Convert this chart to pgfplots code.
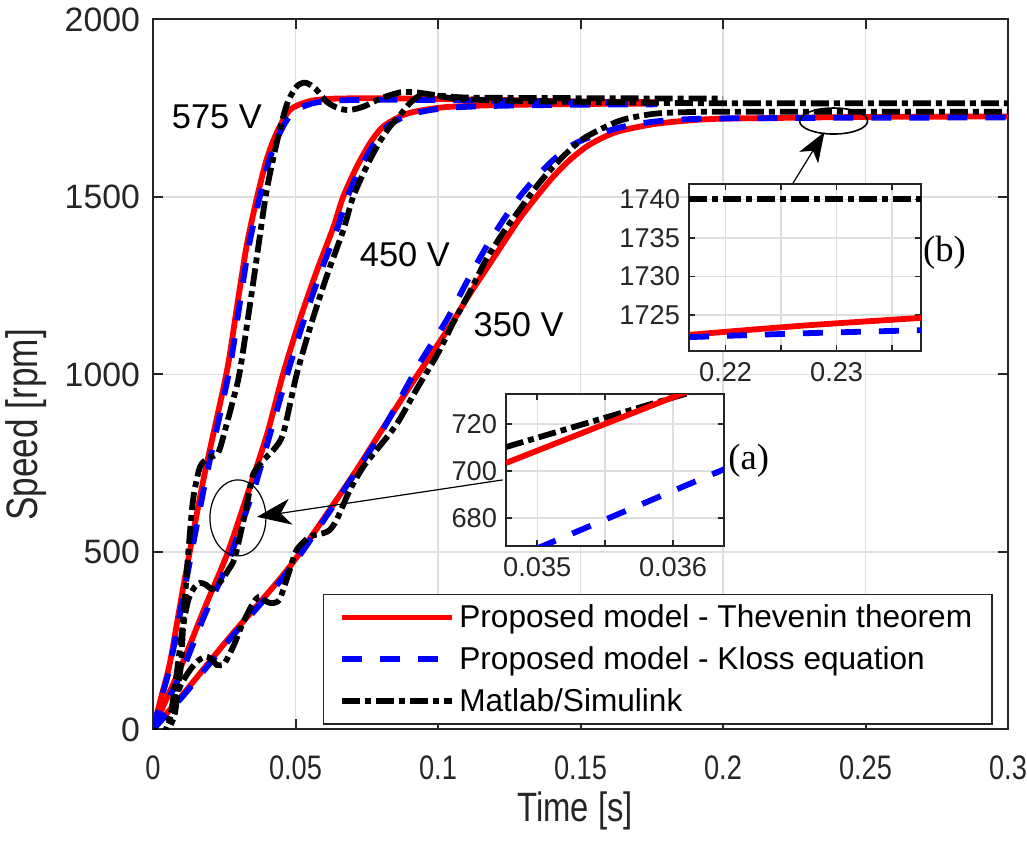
\documentclass[border=0pt]{standalone}
\usepackage{pgfplots}
\pgfplotsset{compat=1.18}
\usepackage{fontspec}
\setmainfont{Liberation Sans}
\newfontfamily\serifont{Liberation Serif}
\newfontfamily\narrowfont{Liberation Sans}[FakeStretch=0.8]
\usetikzlibrary{arrows.meta}
\definecolor{axgray}{RGB}{38,38,38}
\begin{document}
\begin{tikzpicture}
\pgfplotsset{
  red line/.style={draw={rgb,255:red,255;green,0;blue,0}, line width=2.9pt, smooth, tension=0.45},
  blue line/.style={draw={rgb,255:red,0;green,0;blue,255}, line width=2.9pt, dash pattern=on 10pt off 9pt, smooth, tension=0.45},
  black line/.style={draw=black, line width=2.9pt, dash pattern=on 9pt off 2.5pt on 3pt off 2.5pt, smooth, tension=0.45},
}
\begin{axis}[
  name=main, at={(0,0)}, anchor=south west, scale only axis,
  width=427.5pt, height=355pt,
  xmin=0, xmax=0.3, ymin=0, ymax=2000,
  xtick={0,0.05,0.1,0.15,0.2,0.25,0.3},
  xticklabels={0,0.05,0.1,0.15,0.2,0.25,0.3},
  ytick={0,500,1000,1500,2000},
  yticklabels={0,500,1000,1500,2000},
  scaled ticks=false,
  grid=major, major grid style={draw=black!13, line width=0.7pt},
  axis line style={draw=axgray, line width=1pt},
  tick style={draw=axgray, line width=1pt},
  tick align=inside, major tick length=5pt,
  xticklabel style={font=\narrowfont\fontsize{17}{19}\selectfont, text=axgray, yshift=-12pt, inner sep=1pt},
  yticklabel style={font=\fontsize{16.9}{18}\selectfont, text=axgray, xshift=-3pt},
  legend image code/.code={\draw[#1] (0pt,0pt) -- (55pt,0pt);},
  legend style={at={(0.9825,0.0063)}, anchor=south east, draw=axgray, line width=0.8pt, fill=white,
    font=\fontsize{15.8}{18}\selectfont, inner xsep=8pt, inner ysep=3pt, row sep=4pt,
    /tikz/every even column/.append style={column sep=5.5pt}},
  legend cell align=left,
]
% ---- Thevenin (red)
\addplot[red line] coordinates {
(0,0) (0.003,95) (0.006,190) (0.0106,400) (0.0176,700) (0.0258,1004) (0.0293,1182) (0.0328,1360)
(0.0363,1492) (0.0398,1604) (0.0433,1679) (0.048,1745) (0.055,1770) (0.0635,1777) (0.08,1778)
(0.1,1776) (0.13,1772) (0.15,1769) (0.177,1767)};
\addlegendentry{Proposed model - Thevenin theorem}
\addplot[red line, forget plot] coordinates {
(0,0) (0.0035,64) (0.0105,190) (0.018,340) (0.0263,500) (0.0348,703) (0.0361,733) (0.0405,845)
(0.0457,1003) (0.0515,1154) (0.0574,1290) (0.0633,1415) (0.0667,1500) (0.0715,1585) (0.0761,1651)
(0.0807,1698) (0.0878,1731) (0.0948,1745) (0.104,1754) (0.122,1759) (0.15,1762) (0.177,1763)};
\addplot[red line, forget plot] coordinates {
(0,0) (0.0106,100) (0.027,261) (0.048,459) (0.0691,703) (0.08,840) (0.0901,966) (0.1,1085)
(0.1053,1150) (0.111,1225) (0.117,1298) (0.1229,1370) (0.1287,1440) (0.1346,1501) (0.1404,1557)
(0.1462,1604) (0.1521,1642) (0.158,1668) (0.1638,1686) (0.1754,1705) (0.1871,1715) (0.1988,1720.5)
(0.2167,1722.4) (0.227,1723.6) (0.2376,1724.6) (0.26,1725.8) (0.3,1727)};
% ---- Kloss (blue)
\addplot[blue line] coordinates {
(0,0) (0.003,90) (0.006,180) (0.0112,400) (0.0184,700) (0.0266,1004) (0.0301,1182) (0.0336,1360)
(0.0372,1492) (0.0408,1604) (0.0444,1679) (0.049,1738) (0.056,1764) (0.065,1772) (0.08,1774)
(0.1,1773) (0.13,1770) (0.15,1767) (0.177,1765)};
\addlegendentry{Proposed model - Kloss equation}
\addplot[blue line, forget plot] coordinates {
(0,0) (0.0035,55) (0.0105,170) (0.018,320) (0.0263,470) (0.035,668) (0.0364,701) (0.0472,1003)
(0.053,1154) (0.0589,1290) (0.0648,1415) (0.0682,1500) (0.073,1585) (0.0776,1651) (0.082,1698)
(0.089,1729) (0.096,1743) (0.105,1752) (0.122,1757) (0.15,1760) (0.177,1761)};
\addplot[blue line, forget plot] coordinates {
(0,0) (0.0106,95) (0.027,255) (0.048,452) (0.0691,700) (0.08,835) (0.0936,1032) (0.103,1153)
(0.1111,1276) (0.117,1360) (0.1229,1435) (0.1287,1501) (0.1346,1557) (0.1404,1604) (0.1462,1642)
(0.1521,1665) (0.1638,1696) (0.1754,1712) (0.1871,1719) (0.2,1721.3) (0.2167,1722.1) (0.227,1722.6)
(0.2376,1723) (0.3,1724)};
% ---- Simulink (black)
\addplot[black line] coordinates {
(0,0) (0.0015,-8) (0.003,-12) (0.0045,-5) (0.006,30) (0.0075,110) (0.009,200) (0.0106,310)
(0.0124,500) (0.0141,650) (0.0165,740) (0.0194,764) (0.0229,780) (0.0255,850) (0.028,925)
(0.0305,1010) (0.035,1250) (0.0395,1500) (0.0425,1620) (0.045,1705) (0.0474,1770) (0.0505,1812)
(0.0535,1822) (0.057,1805) (0.061,1768) (0.065,1750) (0.069,1745) (0.074,1755) (0.08,1778)
(0.087,1795) (0.093,1794) (0.1,1786) (0.11,1780) (0.13,1779) (0.16,1778) (0.2,1777)};
\addlegendentry{Matlab/Simulink}
\addplot[black line, forget plot] coordinates {
(0,0) (0.0015,-8) (0.003,-12) (0.0045,-6) (0.006,10) (0.0077,46) (0.009,130) (0.01,196)
(0.0106,290) (0.0124,365) (0.0145,400) (0.0165,413) (0.0185,408) (0.0205,396) (0.022,400)
(0.0241,421) (0.0265,450) (0.0288,487) (0.0328,628) (0.0348,710) (0.0362,733) (0.0387,759)
(0.0422,787) (0.0457,834) (0.0504,1000) (0.0558,1150) (0.0613,1285) (0.0668,1407) (0.0702,1500)
(0.0752,1590) (0.0795,1655) (0.0831,1698) (0.0866,1730) (0.0901,1764) (0.0935,1785) (0.098,1788)
(0.105,1778) (0.12,1772) (0.15,1768) (0.2,1764) (0.3,1764)};
\addplot[black line, forget plot] coordinates {
(0,0) (0.0015,-8) (0.003,-10) (0.0045,0) (0.0065,50) (0.0095,121) (0.013,168) (0.016,195)
(0.0188,205) (0.021,195) (0.0223,182) (0.0245,182) (0.0258,196) (0.0285,240) (0.031,290)
(0.034,340) (0.0362,368) (0.0378,374) (0.0399,360) (0.042,356) (0.0445,368) (0.048,450)
(0.0504,506) (0.055,543) (0.0597,553) (0.062,562) (0.0644,590) (0.0691,675) (0.0738,740)
(0.0784,787) (0.0855,860) (0.0926,960) (0.1,1060) (0.1053,1145) (0.111,1230) (0.117,1325)
(0.1229,1400) (0.1287,1465) (0.1346,1530) (0.1404,1585) (0.1462,1632) (0.1521,1670) (0.1638,1715)
(0.1754,1734) (0.1871,1739) (0.2,1740) (0.3,1740)};
% ---- annotations
\node[font=\fontsize{17.2}{19}\selectfont] at (axis cs:0.0224,1725) {575 V};
\node[font=\fontsize{17.2}{19}\selectfont] at (axis cs:0.0884,1337) {450 V};
\node[font=\fontsize{17.2}{19}\selectfont] at (axis cs:0.1283,1139) {350 V};
\draw[line width=0.6pt] (axis cs:0.0298,596) ellipse [x radius=14pt, y radius=19pt];
\draw[line width=0.6pt, -{Stealth[length=17pt, width=13pt, inset=5pt]}] (axis cs:0.1227,703) -- (axis cs:0.03647,599);
\draw[line width=0.8pt] (axis cs:0.2388,1714) ellipse [x radius=17pt, y radius=6.5pt];
\draw[line width=0.6pt, -{Stealth[length=15pt, width=11pt, inset=4pt]}] (axis cs:0.2244,1537) -- (axis cs:0.2356,1683);
\node[font=\serifont\fontsize{18.3}{20}\selectfont] at (axis cs:0.209,756) {(a)};
\node[font=\serifont\fontsize{18.3}{20}\selectfont] at (axis cs:0.2777,1342) {(b)};
\end{axis}
% ---- labels
\node[rotate=90, font=\narrowfont\fontsize{22}{24}\selectfont, text=axgray] at (-63.5pt,152.25pt) {Speed [rpm]};
\node[font=\narrowfont\fontsize{20.5}{22}\selectfont, text=axgray, inner sep=0.5pt] at (211pt,-40.5pt) {Time [s]};
% ---- inset (a)
\begin{axis}[
  at={(176.5pt,91.75pt)}, anchor=south west, scale only axis,
  width=109pt, height=76pt,
  xmin=0.03477, xmax=0.036375, ymin=668, ymax=732.8,
  xtick={0.035,0.0355,0.036}, xticklabels={0.035,,0.036},
  ytick={680,700,720}, yticklabels={680,700,720},
  scaled ticks=false,
  axis background/.style={fill=white},
  grid=major, major grid style={draw=black!13, line width=0.7pt},
  axis line style={draw=axgray, line width=1pt},
  tick style={draw=axgray, line width=0.8pt},
  tick align=inside, major tick length=3pt,
  xticklabel style={font=\fontsize{13.6}{15}\selectfont, text=axgray, yshift=-2pt},
  yticklabel style={font=\fontsize{13.6}{15}\selectfont, text=axgray, xshift=-1pt},
]
\addplot[black line] coordinates {(0.03477,710.2) (0.0361,733)};
\addplot[red line] coordinates {(0.03477,703.4) (0.0362,736)};
\addplot[blue line] coordinates {(0.0350,667) (0.0364,701.3)};
\end{axis}
% ---- inset (b)
\begin{axis}[
  at={(268pt,189.25pt)}, anchor=south west, scale only axis,
  width=116pt, height=83.5pt,
  xmin=0.2167, xmax=0.2376, ymin=1720.3, ymax=1742,
  xtick={0.22,0.225,0.23,0.235}, xticklabels={0.22,,0.23,},
  ytick={1725,1730,1735,1740}, yticklabels={1725,1730,1735,1740},
  scaled ticks=false,
  axis background/.style={fill=white},
  grid=major, major grid style={draw=black!13, line width=0.7pt},
  axis line style={draw=axgray, line width=1pt},
  tick style={draw=axgray, line width=0.8pt},
  tick align=inside, major tick length=3pt,
  xticklabel style={font=\fontsize{13.6}{15}\selectfont, text=axgray, yshift=-2pt},
  yticklabel style={font=\fontsize{13.6}{15}\selectfont, text=axgray, xshift=-1pt},
]
\addplot[red line] coordinates {(0.2167,1722.4) (0.227,1723.6) (0.2376,1724.6)};
\addplot[blue line] coordinates {(0.2167,1722.1) (0.227,1722.6) (0.2376,1723.0)};
\addplot[black line] coordinates {(0.2167,1740) (0.2376,1740)};
\end{axis}
\pgfresetboundingbox
\useasboundingbox (-76.5pt,-55.25pt) rectangle (437pt,364.75pt);
\end{tikzpicture}
\end{document}
